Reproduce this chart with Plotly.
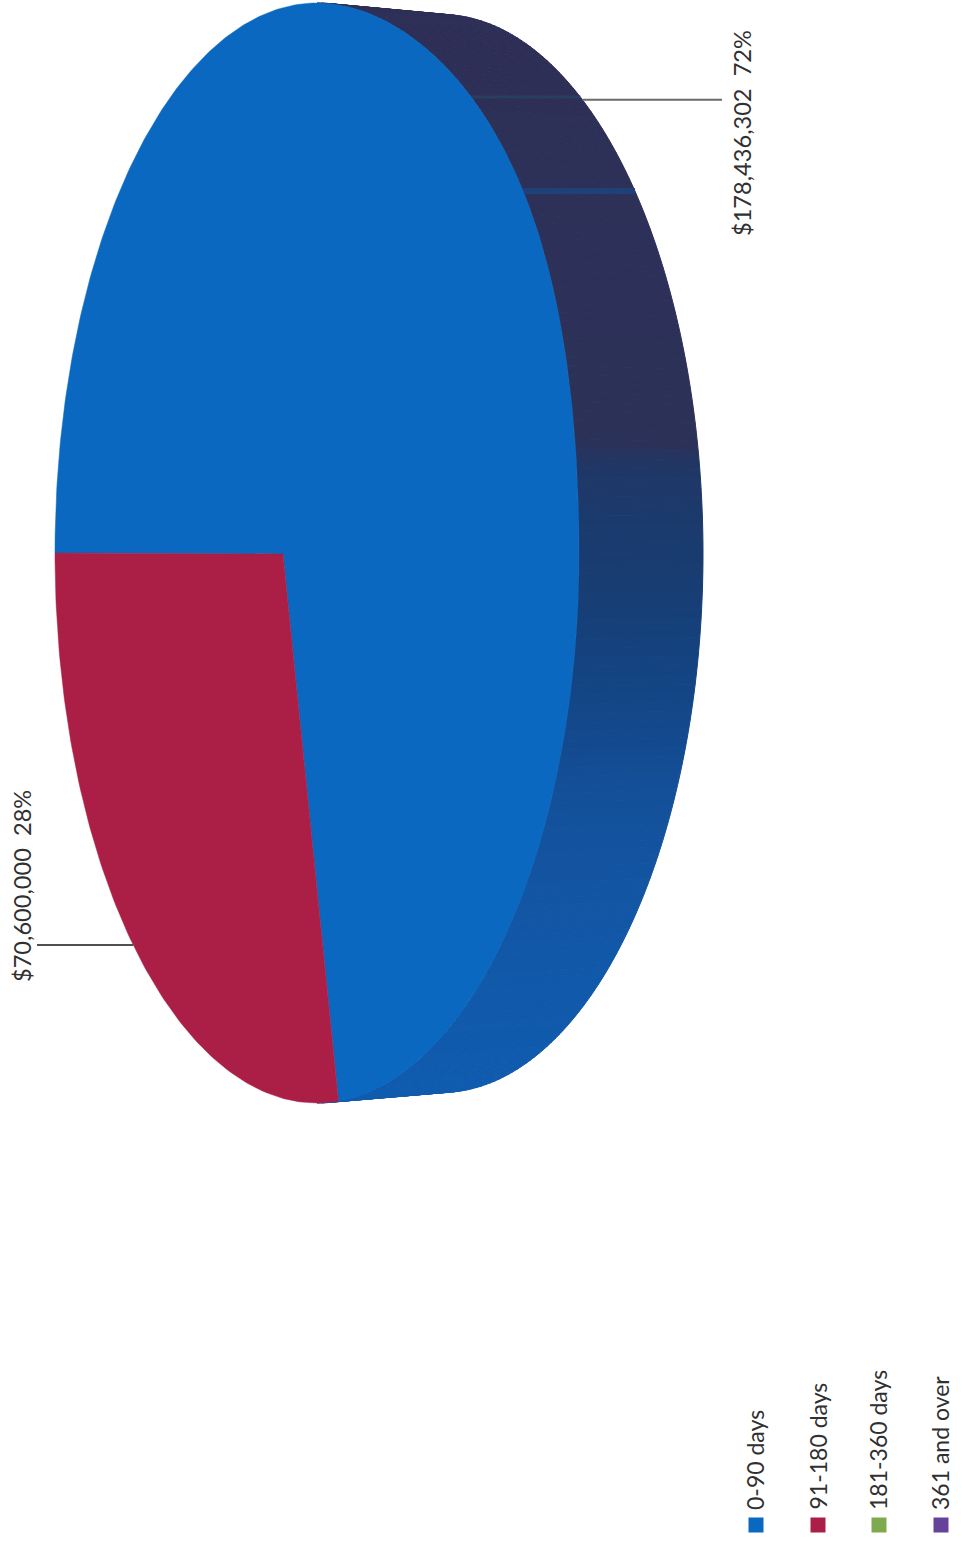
import numpy as np
import plotly.graph_objects as go

# ---- data ----
slice_names = ["0-90 days", "91-180 days"]
slice_amounts = [178436302, 70600000]
slice_labels = ["$178,436,302\u00a0\u00a072%", "$70,600,000\u00a0\u00a028%"]
legend_names = ["0-90 days", "91-180 days", "181-360 days", "361 and over"]
legend_colors = ["#0a68c0", "#ab1f47", "#7fa94f", "#66429a"]

# ---- geometry of the tilted pie (page pixels) ----
FRONT = dict(cx=317, cy=553, rx=262, ry=550, bulge=9)
BACK = dict(cx=441, cy=553.5, rx=262, ry=539, bulge=0)
APEX = (283, 554)
PERSPECTIVE = 0.928          # foreshortening of the wedge sweep
W, H = 965, 1543


def ell(e, deg):
    deg = np.asarray(deg, dtype=float)
    a = np.radians(deg)
    wrapped = (deg + 180) % 360 - 180
    upper_right = (wrapped > -90) & (wrapped < 0)
    dx = np.where(upper_right, e["bulge"] * np.sin(2 * a) ** 2, 0.0)
    return e["cx"] + e["rx"] * np.cos(a) + dx, e["cy"] + e["ry"] * np.sin(a)


def rim_x(e, y):
    s = (y - e["cy"]) / e["ry"]
    return float(ell(e, np.degrees(np.arcsin(s)))[0])


share = np.array(slice_amounts) / sum(slice_amounts)
red_sweep = 360 * share[1] * PERSPECTIVE
red_t = np.linspace(180, 180 - red_sweep, 120)
red_x, red_y = ell(FRONT, red_t)

blue_t = np.linspace(180 - red_sweep, 180 - 360, 400)
blue_x, blue_y = ell(FRONT, blue_t)

side_stops = [(0, "#2e2f57"), (440, "#2c3158"), (470, "#1f3767"), (520, "#1b3a6c"),
              (600, "#173e75"), (680, "#134483"), (800, "#13509a"), (950, "#1258a8"),
              (1110, "#0f5cb0")]


def side_color(y):
    ys = [s[0] for s in side_stops]
    rgb = [[int(s[1][i:i + 2], 16) for i in (1, 3, 5)] for s in side_stops]
    vals = [np.interp(y, ys, [c[k] for c in rgb]) for k in range(3)]
    return "rgb(%d,%d,%d)" % tuple(int(round(v)) for v in vals)


fig = go.Figure()

# side wall, as strips between the front rim and the back rim
edges = np.linspace(-90, 90, 181)
for a, b in zip(edges[:-1], edges[1:]):
    fx, fy = ell(FRONT, np.array([a, b]))
    bx, by = ell(BACK, np.array([b, a]))
    col = side_color((fy.mean() + by.mean()) / 2)
    fig.add_trace(go.Scatter(x=list(fx) + list(bx) + [fx[0]], y=list(fy) + list(by) + [fy[0]],
                             mode="lines", fill="toself", fillcolor=col,
                             line=dict(color=col, width=1), hoverinfo="skip", showlegend=False))

# faint reflections on the side wall
for yy, col, wid in [(97, "#28405f", 3), (191, "#1e4277", 6)]:
    fig.add_trace(go.Scatter(x=[rim_x(FRONT, yy), rim_x(BACK, yy)], y=[yy, yy], mode="lines",
                             line=dict(color=col, width=wid), hoverinfo="skip", showlegend=False))

# blue slice
fig.add_trace(go.Scatter(x=[APEX[0], *blue_x, APEX[0]], y=[APEX[1], *blue_y, APEX[1]],
                         mode="lines", fill="toself", fillcolor=legend_colors[0],
                         line=dict(color=legend_colors[0], width=0.5),
                         name=slice_names[0], showlegend=False))
# red slice
fig.add_trace(go.Scatter(x=[APEX[0], *red_x, APEX[0]], y=[APEX[1], *red_y, APEX[1]],
                         mode="lines", fill="toself", fillcolor=legend_colors[1],
                         line=dict(color=legend_colors[1], width=0.5),
                         name=slice_names[1], showlegend=False))

# leader lines
red_mid = 180 - red_sweep * 0.48
lx, ly = ell(FRONT, red_mid)
fig.add_trace(go.Scatter(x=[37, float(lx)], y=[float(ly), float(ly)], mode="lines",
                         line=dict(color="#505050", width=2), hoverinfo="skip", showlegend=False))
blue_mid = 180 - red_sweep / 2 - 180 - 10
rx_, ry_ = ell(BACK, blue_mid)
fig.add_trace(go.Scatter(x=[float(rx_), 722], y=[float(ry_), float(ry_)], mode="lines",
                         line=dict(color="#6a6a6a", width=2), hoverinfo="skip", showlegend=False))

FONT = "Lato"
TXT = "#303030"
fig.add_annotation(x=742, y=238, text=slice_labels[0], textangle=-90, showarrow=False,
                   xanchor="center", yanchor="bottom", font=dict(family=FONT, size=23.6, color=TXT))
fig.add_annotation(x=22, y=984, text=slice_labels[1], textangle=-90, showarrow=False,
                   xanchor="center", yanchor="bottom", font=dict(family=FONT, size=23.6, color=TXT))

# legend (rotated with the page)
legend_x = [756, 818, 879, 941]
fig.add_trace(go.Scatter(x=legend_x, y=[1525] * 4, mode="markers",
                         marker=dict(symbol="square", size=15, color=legend_colors, line=dict(width=0)),
                         text=legend_names, hoverinfo="text", showlegend=False))
for x, name in zip(legend_x, legend_names):
    fig.add_annotation(x=x - 1, y=1512, text=name, textangle=-90, showarrow=False,
                       xanchor="center", yanchor="bottom", font=dict(family=FONT, size=23, color=TXT))

fig.update_layout(width=W, height=H, margin=dict(l=0, r=0, t=0, b=0),
                  paper_bgcolor="white", plot_bgcolor="white", showlegend=False,
                  xaxis=dict(range=[0, W], visible=False, fixedrange=True),
                  yaxis=dict(range=[H, 0], visible=False, fixedrange=True))
fig.write_html("out.html", config=dict(displayModeBar=False),
               post_script="document.body.style.margin='0';document.documentElement.style.overflow='hidden';")
